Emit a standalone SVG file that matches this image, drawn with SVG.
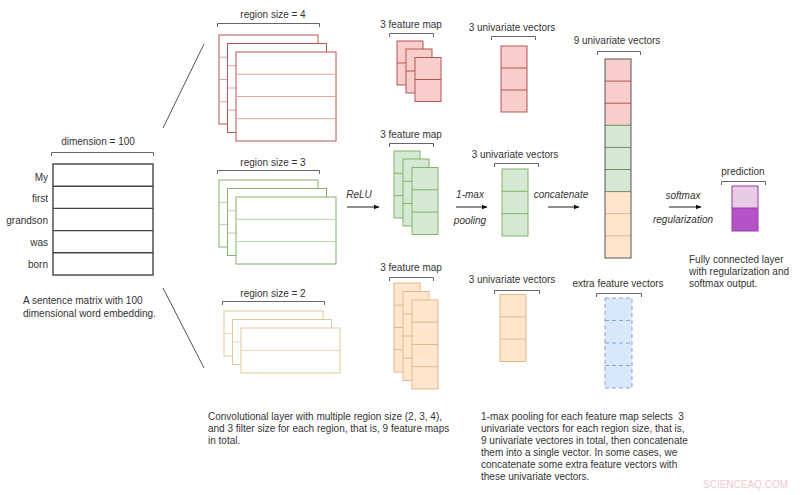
<svg xmlns="http://www.w3.org/2000/svg" width="800" height="495" viewBox="0 0 800 495">
<defs>
<marker id="ah" viewBox="0 0 10 10" refX="9" refY="5" markerWidth="6" markerHeight="6" orient="auto" markerUnits="userSpaceOnUse">
<path d="M0,1 L10,5 L0,9 Z" fill="#111"/>
</marker>
<style>
text{font-family:"Liberation Sans",Arial,sans-serif;font-size:10px;fill:#333}
.c{text-anchor:middle}
.r{text-anchor:end}
.i{font-style:italic}
.br{fill:none;stroke:#666;stroke-width:1}
.mat{fill:#fff;stroke:#444;stroke-width:1.4}
.rr{fill:#fff;stroke:#b85450;stroke-width:1}
.rl{stroke:#e4a3a1;stroke-width:1}
.gr{fill:#fff;stroke:#82b366;stroke-width:1}
.gl{stroke:#b8d6a6;stroke-width:1}
.or{fill:#fff;stroke:#e6c79b;stroke-width:1}
.ol{stroke:#f0d8b8;stroke-width:1}
.rf{fill:#f8cecc;stroke:#b85450;stroke-width:1}
.rfl{stroke:#b85450;stroke-width:1}
.gf{fill:#d5e8d4;stroke:#82b366;stroke-width:1}
.gfl{stroke:#82b366;stroke-width:1}
.of{fill:#ffe6cc;stroke:#e3b98a;stroke-width:1}
.ofl{stroke:#e3b98a;stroke-width:1}
.bf{fill:#dae8fc;stroke:#7ea6d8;stroke-width:1;stroke-dasharray:4 3}
.conn{fill:none;stroke:#222;stroke-width:1}
.diag{fill:none;stroke:#555;stroke-width:1}
</style>
</defs>
<rect width="800" height="495" fill="#fff"/>

<g id="sentence-matrix">
<text class="c" x="98" y="144.5">dimension = 100</text>
<path class="br" d="M51.5,156 V152.5 H153.5 V156"/>
<rect class="mat" x="53" y="164" width="100" height="111"/>
<path class="mat" d="M53,186.2 H153 M53,208.4 H153 M53,230.6 H153 M53,252.8 H153"/>
<text class="r" x="48" y="180.5">My</text>
<text class="r" x="48" y="202">first</text>
<text class="r" x="48" y="224">grandson</text>
<text class="r" x="48" y="246">was</text>
<text class="r" x="48" y="268">born</text>
<text x="23" y="303.5">A sentence matrix with 100</text>
<text x="23" y="316.5">dimensional word embedding.</text>
</g>

<g id="conv-region4">
<text class="c" x="273" y="17.5">region size = 4</text>
<path class="br" d="M217.5,27 V23.5 H319.5 V27"/>
<rect class="rr" x="219" y="35" width="99" height="89"/>
<path class="rl" d="M219,57.2 H227 M219,79.5 H227 M219,101.7 H227"/>
<rect class="rr" x="227.5" y="43.5" width="99" height="89"/>
<path class="rl" d="M227.5,65.7 H236 M227.5,88 H236 M227.5,110.2 H236"/>
<rect class="rr" x="236" y="52" width="100" height="89"/>
<path class="rl" d="M236,74.2 H336 M236,96.5 H336 M236,118.7 H336"/>
</g>

<g id="conv-region3">
<text class="c" x="273" y="165.5">region size = 3</text>
<path class="br" d="M217.5,174 V170.5 H319.5 V174"/>
<rect class="gr" x="219" y="180" width="99" height="67"/>
<path class="gl" d="M219,202.3 H227 M219,224.6 H227"/>
<rect class="gr" x="227.5" y="188.5" width="99" height="67"/>
<path class="gl" d="M227.5,210.8 H236 M227.5,233.1 H236"/>
<rect class="gr" x="236" y="197" width="100" height="67"/>
<path class="gl" d="M236,219.3 H336 M236,241.6 H336"/>
</g>

<g id="conv-region2">
<text class="c" x="273" y="296.5">region size = 2</text>
<path class="br" d="M222.5,305 V301.5 H324.5 V305"/>
<rect class="or" x="224" y="311" width="99" height="45"/>
<path class="ol" d="M224,333.5 H232"/>
<rect class="or" x="232.5" y="319.5" width="99" height="45"/>
<path class="ol" d="M232.5,342 H241"/>
<rect class="or" x="241" y="328" width="99" height="45"/>
<path class="ol" d="M241,350.5 H340"/>
</g>

<g id="feature-map-red">
<text class="c" x="411" y="27.5">3 feature map</text>
<path class="br" d="M389.5,37 V33.5 H433.5 V37"/>
<rect class="rf" x="397" y="41" width="26" height="44"/>
<path class="rfl" d="M397,63 H406"/>
<rect class="rf" x="406" y="49" width="26" height="44"/>
<path class="rfl" d="M406,71 H415"/>
<rect class="rf" x="415" y="57.5" width="26" height="44"/>
<path class="rfl" d="M415,79.5 H441"/>
</g>

<g id="feature-map-green">
<text class="c" x="411" y="137.5">3 feature map</text>
<path class="br" d="M389.5,147 V143.5 H433.5 V147"/>
<rect class="gf" x="394" y="151" width="26" height="67"/>
<path class="gfl" d="M394,173.3 H403 M394,195.6 H403"/>
<rect class="gf" x="403" y="159" width="26" height="67"/>
<path class="gfl" d="M403,181.3 H412 M403,203.6 H412"/>
<rect class="gf" x="412" y="167.5" width="26" height="67"/>
<path class="gfl" d="M412,189.8 H438 M412,212.1 H438"/>
</g>

<g id="feature-map-orange">
<text class="c" x="411" y="270.5">3 feature map</text>
<path class="br" d="M389.5,281 V277.5 H433.5 V281"/>
<rect class="of" x="394" y="283" width="26" height="89"/>
<path class="ofl" d="M394,305.2 H403 M394,327.5 H403 M394,349.7 H403"/>
<rect class="of" x="403" y="291.5" width="26" height="89"/>
<path class="ofl" d="M403,313.7 H412 M403,336 H412 M403,358.2 H412"/>
<rect class="of" x="412" y="300" width="26" height="89"/>
<path class="ofl" d="M412,322.2 H438 M412,344.5 H438 M412,366.7 H438"/>
</g>

<g id="univariate-red">
<text class="c" x="512" y="30.5">3 univariate vectors</text>
<path class="br" d="M491.5,40 V36.5 H535.5 V40"/>
<rect class="rf" x="501" y="46" width="26" height="66"/>
<path class="rfl" d="M501,68 H527 M501,90 H527"/>
</g>

<g id="univariate-green">
<text class="c" x="515" y="157.5">3 univariate vectors</text>
<path class="br" d="M494.5,167 V163.5 H538.5 V167"/>
<rect class="gf" x="502" y="169" width="26" height="67"/>
<path class="gfl" d="M502,191.3 H528 M502,213.6 H528"/>
</g>

<g id="univariate-orange">
<text class="c" x="512" y="282.5">3 univariate vectors</text>
<path class="br" d="M494.5,294 V290.5 H539.5 V294"/>
<rect class="of" x="500" y="294.5" width="26" height="67"/>
<path class="ofl" d="M500,316.8 H526 M500,339.1 H526"/>
</g>

<g id="concatenated-vector">
<text class="c" x="617" y="43.5">9 univariate vectors</text>
<path class="br" d="M597.5,55 V51.5 H640.5 V55"/>
<rect x="605" y="59" width="26" height="66.3" fill="#f8cecc"/>
<rect x="605" y="125.3" width="26" height="66.3" fill="#d5e8d4"/>
<rect x="605" y="191.6" width="26" height="66.4" fill="#ffe6cc"/>
<path class="rfl" d="M605,81.1 H631 M605,103.2 H631"/>
<path stroke="#6e8f5e" stroke-width="1" d="M605,125.3 H631 M605,147.4 H631 M605,169.5 H631 M605,191.6 H631"/>
<path class="ofl" d="M605,213.7 H631 M605,235.8 H631"/>
<rect x="605" y="59" width="26" height="199" fill="none" stroke="#555" stroke-width="1"/>
</g>

<g id="extra-feature-vectors">
<text class="c" x="618" y="286.5">extra feature vectors</text>
<path class="br" d="M596.5,297 V293.5 H641.5 V297"/>
<rect class="bf" x="605" y="298" width="27" height="90"/>
<path class="bf" d="M605,320.5 H632 M605,343 H632 M605,365.5 H632"/>
</g>

<g id="prediction">
<text class="c" x="743" y="174.5">prediction</text>
<path class="br" d="M721.5,185 V181.5 H765.5 V185"/>
<rect x="732" y="186" width="26" height="22" fill="#e8cce4"/>
<rect x="732" y="208" width="26" height="23" fill="#b353c6"/>
<rect x="732" y="186" width="26" height="45" fill="none" stroke="#9a3aae" stroke-width="1"/>
<path stroke="#9a3aae" stroke-width="1" d="M732,208 H758"/>
<text x="689" y="262.5">Fully connected layer</text>
<text x="689" y="274.5">with regularization and</text>
<text x="689" y="286.5">softmax output.</text>
</g>

<g id="connectors">
<line class="diag" x1="204" y1="44" x2="163" y2="128"/>
<line class="diag" x1="163" y1="288" x2="204" y2="368"/>
<line class="conn" x1="347" y1="207" x2="379" y2="207" marker-end="url(#ah)"/>
<text class="c i" x="359" y="197.5">ReLU</text>
<line class="conn" x1="456" y1="207" x2="487" y2="207" marker-end="url(#ah)"/>
<text class="c i" x="470" y="197.5">1-max</text>
<text class="c i" x="470" y="223.5">pooling</text>
<line class="conn" x1="548" y1="207" x2="579" y2="207" marker-end="url(#ah)"/>
<text class="c i" x="561" y="197.5">concatenate</text>
<line class="conn" x1="669" y1="207" x2="701" y2="207" marker-end="url(#ah)"/>
<text class="c i" x="683" y="198.5">softmax</text>
<text class="c i" x="683" y="222.5">regularization</text>
</g>

<g id="captions">
<text x="208" y="419.5">Convolutional layer with multiple region size (2, 3, 4),</text>
<text x="208" y="431.5">and 3 filter size for each region, that is, 9 feature maps</text>
<text x="208" y="443.5">in total.</text>
<text x="481" y="419.5">1-max pooling for each feature map selects&#160; 3</text>
<text x="481" y="431.5">univariate vectors for each region size, that is,</text>
<text x="481" y="443.5">9 univariate vectores in total, then concatenate</text>
<text x="481" y="455.5">them into a single vector. In some cases, we</text>
<text x="481" y="467.5">concatenate some extra feature vectors with</text>
<text x="481" y="479.5">these univariate vectors.</text>
<text x="703" y="488" style="fill:#f2c6cf;font-size:10px">SCIENCEAQ.COM</text>
</g>
</svg>
